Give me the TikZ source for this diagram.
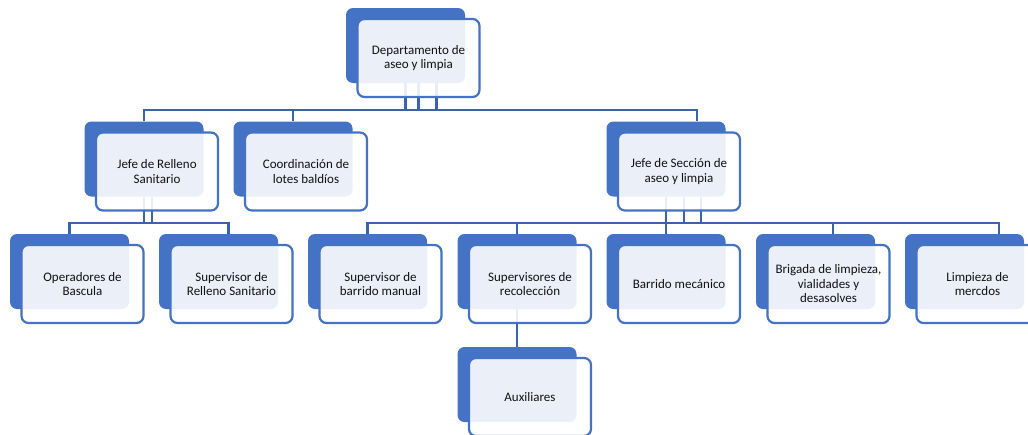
\documentclass[tikz,border=0pt]{standalone}
\usepackage{fontspec}
\setmainfont{Carlito}
\definecolor{orgblue}{HTML}{4472C4}
\definecolor{linkblue}{HTML}{3A62AD}
\definecolor{txtgray}{HTML}{111111}
\tikzstyle{backbox} = [fill=orgblue, rectangle, rounded corners=7pt,
    minimum width=119pt, minimum height=75pt, inner sep=0pt]
\tikzstyle{frontbox} = [draw=orgblue, line width=2.2pt, fill=white,
    fill opacity=0.89, text opacity=1, rectangle, rounded corners=7pt,
    minimum width=122pt, minimum height=78pt, inner sep=2pt, align=center,
    text=txtgray, font=\fontsize{13}{14.5}\selectfont]
\tikzstyle{link} = [draw=linkblue, line width=2.2pt]

\begin{document}
\begin{tikzpicture}[x=1pt, y=-1pt]
    \useasboundingbox (0,0) rectangle (1028,434);
    % back boxes
    \node[backbox] (depb) at (405.5,45.5) {};
    \node[backbox] (jrb) at (144,159) {};
    \node[backbox] (coordb) at (293,159) {};
    \node[backbox] (jsb) at (666,159) {};
    \node[backbox] (opb) at (69.5,271.5) {};
    \node[backbox] (srsb) at (218.5,271.5) {};
    \node[backbox] (sbmb) at (367.5,271.5) {};
    \node[backbox] (srcb) at (517,271.5) {};
    \node[backbox] (bmecb) at (666,271.5) {};
    \node[backbox] (brigb) at (815.5,271.5) {};
    \node[backbox] (limpb) at (964.5,271.5) {};
    \node[backbox] (auxb) at (517,384.5) {};

    \coordinate (bus1) at (0,110);
    \coordinate (bus2) at (0,223);

    % connectors
    \foreach \dx in {0,13,31}
        \draw[link] ([xshift=\dx pt]depb.south) -- ([xshift=\dx pt]depb.south |- bus1);
    \draw[link] (jrb.north) |- ([xshift=31pt]jsb.north |- bus1) -- ([xshift=31pt]jsb.north);
    \draw[link] (coordb.north) -- (coordb.north |- bus1);

    \foreach \dx in {0,8}
        \draw[link] ([xshift=\dx pt]jrb.south) -- ([xshift=\dx pt]jrb.south |- bus2);
    \draw[link] (opb.north) |- ([xshift=10pt]srsb.north |- bus2) -- ([xshift=10pt]srsb.north);

    \foreach \dx in {0,18,35}
        \draw[link] ([xshift=\dx pt]jsb.south) -- ([xshift=\dx pt]jsb.south |- bus2);
    \draw[link] (sbmb.north) |- ([xshift=34.5pt]limpb.north |- bus2) -- ([xshift=34.5pt]limpb.north);
    \foreach \n/\dx in {srcb/0, bmecb/0, brigb/17.5}
        \draw[link] ([xshift=\dx pt]\n.north) -- ([xshift=\dx pt]\n.north |- bus2);

    \draw[link] (srcb.south) -- (auxb.north);

    % front boxes
    \node[frontbox] (dep) at ([shift={(13,12.5)}]depb) {Departamento de\\aseo y limpia};
    \node[frontbox] (jr) at ([shift={(13,12.5)}]jrb) {Jefe de Relleno\\Sanitario};
    \node[frontbox] (coord) at ([shift={(13,12.5)}]coordb) {Coordinación de\\lotes baldíos};
    \node[frontbox] (js) at ([shift={(13,12.5)}]jsb) {Jefe de Sección de\\aseo y limpia};
    \node[frontbox] (op) at ([shift={(13,12.5)}]opb) {Operadores de\\Bascula};
    \node[frontbox] (srs) at ([shift={(13,12.5)}]srsb) {Supervisor de\\Relleno Sanitario};
    \node[frontbox] (sbm) at ([shift={(13,12.5)}]sbmb) {Supervisor de\\barrido manual};
    \node[frontbox] (src) at ([shift={(13,12.5)}]srcb) {Supervisores de\\recolección};
    \node[frontbox] (bmec) at ([shift={(13,12.5)}]bmecb) {Barrido mecánico};
    \node[frontbox] (brig) at ([shift={(13,12.5)}]brigb) {Brigada de limpieza,\\vialidades y\\desasolves};
    \node[frontbox] (limp) at ([shift={(13,12.5)}]limpb) {Limpieza de\\mercdos};
    \node[frontbox] (aux) at ([shift={(13,12.5)}]auxb) {Auxiliares};
\end{tikzpicture}
\end{document}
